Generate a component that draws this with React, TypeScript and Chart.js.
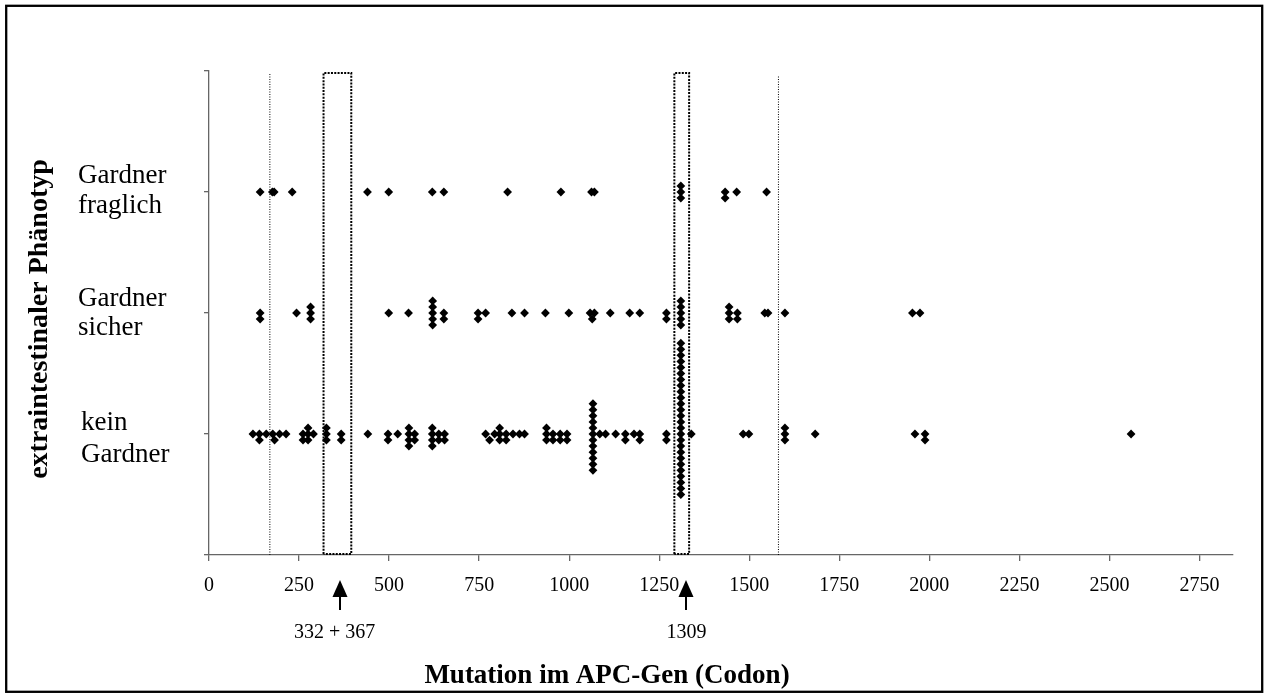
import React, { useEffect, useRef } from "react";
import { Chart, registerables } from "chart.js";

Chart.register(...registerables);

// ---- data (codon position, row value incl. stacking offset) ----
// row values: 1 = kein Gardner, 2 = Gardner sicher, 3 = Gardner fraglich
const keinCodon = [
  122, 140, 140, 159, 177, 182, 196, 214,
  261, 261, 275, 275, 275, 290,
  326, 326, 326, 367, 367,
  441, 497, 497, 524,
  555, 555, 555, 555, 571, 571,
  620, 620, 620, 620, 638, 638, 654, 654,
  768, 779, 793, 807, 807, 807, 825, 825, 844, 862, 876,
  937, 937, 937, 955, 955, 975, 975, 994, 994,
  1066, 1066, 1066, 1066, 1066, 1066, 1066, 1066, 1066, 1066, 1066, 1066,
  1085, 1101, 1129, 1156, 1156, 1180, 1196, 1196,
  1270, 1270,
  1310, 1310, 1310, 1310, 1310, 1310, 1310, 1310, 1310, 1310, 1310, 1310, 1310,
  1310, 1310, 1310, 1310, 1310, 1310, 1310, 1310, 1310, 1310, 1310, 1310, 1310,
  1339, 1483, 1499, 1599, 1599, 1599, 1683, 1960, 1988, 1988, 2560,
];
const keinRow = [
  1, 1, 0.95, 1, 1, 0.95, 1, 1,
  1, 0.95, 1.05, 1, 0.95, 1,
  1.05, 1, 0.95, 1, 0.95,
  1, 1, 0.95, 1,
  1.05, 1, 0.95, 0.9, 1, 0.95,
  1.05, 1, 0.95, 0.9, 1, 0.95, 1, 0.95,
  1, 0.95, 1, 1.05, 1, 0.95, 1, 0.95, 1, 1, 1,
  1.05, 1, 0.95, 1, 0.95, 1, 0.95, 1, 0.95,
  1.25, 1.2, 1.15, 1.1, 1.05, 1, 0.95, 0.9, 0.85, 0.8, 0.75, 0.7,
  1, 1, 1, 1, 0.95, 1, 1, 0.95,
  1, 0.95,
  1.75, 1.7, 1.65, 1.6, 1.55, 1.5, 1.45, 1.4, 1.35, 1.3, 1.25, 1.2, 1.15,
  1.1, 1.05, 1, 0.95, 0.9, 0.85, 0.8, 0.75, 0.7, 0.65, 0.6, 0.55, 0.5,
  1, 1, 1, 1.05, 1, 0.95, 1, 1, 1, 0.95, 1,
];

const sicherCodon = [
  142, 142, 243, 282, 282, 282, 499, 554,
  621, 621, 621, 621, 621, 652, 652, 747, 747, 768, 841, 876, 934, 999,
  1058, 1070, 1064, 1114, 1168, 1196, 1270, 1270,
  1310, 1310, 1310, 1310, 1310,
  1444, 1444, 1444, 1467, 1467, 1543, 1552, 1599, 1953, 1974,
];
const sicherRow = [
  2, 1.95, 2, 2.05, 2, 1.95, 2, 2,
  2.1, 2.05, 2, 1.95, 1.9, 2, 1.95, 2, 1.95, 2, 2, 2, 2, 2,
  2, 2, 1.95, 2, 2, 2, 2, 1.95,
  2.1, 2.05, 2, 1.95, 1.9,
  2.05, 2, 1.95, 2, 1.95, 2, 2, 2, 2, 2,
];

const fraglichCodon = [
  142, 176, 181, 231, 440, 499, 620, 652, 829, 977, 1062, 1070,
  1310, 1310, 1310, 1433, 1433, 1465, 1548,
];
const fraglichRow = [
  3, 3, 3, 3, 3, 3, 3, 3, 3, 3, 3, 3,
  3.05, 3, 2.95, 3, 2.95, 3, 3,
];

// category labels (row value -> two text lines)
const categoryValues = [3, 2, 1];
const categoryLines = [
  ["Gardner", "fraglich"],
  ["Gardner", "sicher"],
  ["kein", "Gardner"],
];

// reference lines and highlighted regions (codon)
const lineCodons = [169, 1581];
const lineTop = [3.975, 3.96];
const boxRanges = [
  [318, 395],
  [1292, 1333],
];
const boxTop = 3.983;
const boxBottom = 0.008;

// arrows under the axis
const arrowCodons = [363, 1324];
const arrowLabels = ["332 + 367", "1309"];
const arrowLabelCodons = [349, 1326];

const xTickValues = [0, 250, 500, 750, 1000, 1250, 1500, 1750, 2000, 2250, 2500, 2750];
const xMin = 0;
const xMax = 2843;
const yMin = 0;
const yMax = 4;

const xTitle = "Mutation im APC-Gen (Codon)";
const yTitle = "extraintestinaler Phänotyp";

const SERIF = "'Liberation Serif', 'Times New Roman', serif";

function zip(xs: number[], ys: number[]) {
  return xs.map((x, i) => ({ x, y: ys[i] }));
}

const annotationPlugin = {
  id: "annot",
  afterDraw(chart: any) {
    const ctx = chart.ctx as CanvasRenderingContext2D;
    const xs = chart.scales.x;
    const ys = chart.scales.y;
    ctx.save();
    ctx.fillStyle = "#000";

    // category labels
    const offsets = [
      [-9, 21],
      [-7, 22],
      [-4, 28],
    ];
    const lefts = [78, 78, 81];
    ctx.font = `27px ${SERIF}`;
    ctx.textAlign = "left";
    ctx.textBaseline = "alphabetic";
    categoryValues.forEach((v, i) => {
      const py = ys.getPixelForValue(v);
      ctx.fillText(categoryLines[i][0], lefts[i], py + offsets[i][0]);
      ctx.fillText(categoryLines[i][1], lefts[i], py + offsets[i][1]);
    });

    // arrows
    arrowCodons.forEach((c) => {
      const px = Math.round(xs.getPixelForValue(c));
      ctx.beginPath();
      ctx.moveTo(px, 580);
      ctx.lineTo(px + 7.5, 597);
      ctx.lineTo(px - 7.5, 597);
      ctx.closePath();
      ctx.fill();
      ctx.fillRect(px - 1, 596, 2, 14);
    });
    ctx.font = `20px ${SERIF}`;
    ctx.textAlign = "center";
    ctx.textBaseline = "middle";
    arrowLabels.forEach((t, i) => {
      ctx.fillText(t, xs.getPixelForValue(arrowLabelCodons[i]), 633);
    });

    // titles
    ctx.font = `bold 27px ${SERIF}`;
    ctx.textAlign = "center";
    ctx.textBaseline = "alphabetic";
    ctx.fillText(xTitle, 607, 683);
    ctx.save();
    ctx.font = `bold 28px ${SERIF}`;
    ctx.translate(47, 319);
    ctx.rotate(-Math.PI / 2);
    ctx.fillText(yTitle, 0, 0);
    ctx.restore();

    // outer frame
    ctx.strokeStyle = "#000";
    ctx.lineWidth = 2.3;
    ctx.strokeRect(6.2, 5.8, 1256, 686);
    ctx.restore();
  },
};

export default function App() {
  const ref = useRef<HTMLCanvasElement | null>(null);

  useEffect(() => {
    if (!ref.current) return;
    const pointStyle = {
      showLine: false,
      pointStyle: "rectRot" as const,
      pointRadius: 4.4,
      pointHoverRadius: 4.4,
      pointBackgroundColor: "#000",
      pointBorderColor: "#000",
      pointBorderWidth: 0,
      backgroundColor: "#000",
      borderColor: "#000",
    };
    const lineStyle = {
      showLine: true,
      pointRadius: 0,
      borderColor: "#000",
      borderWidth: 1,
      borderDash: [1, 1.5],
      fill: false,
    };
    const boxStyle = {
      showLine: true,
      pointRadius: 0,
      borderColor: "#000",
      borderWidth: 2,
      borderDash: [2, 1.3],
      fill: false,
    };

    const datasets: any[] = [
      { label: "fraglich", data: zip(fraglichCodon, fraglichRow), ...pointStyle },
      { label: "sicher", data: zip(sicherCodon, sicherRow), ...pointStyle },
      { label: "kein", data: zip(keinCodon, keinRow), ...pointStyle },
    ];
    lineCodons.forEach((c, i) => {
      datasets.push({
        label: "line" + i,
        data: [
          { x: c, y: yMin },
          { x: c, y: lineTop[i] },
        ],
        ...lineStyle,
      });
    });
    boxRanges.forEach(([a, b], i) => {
      datasets.push({
        label: "box" + i,
        data: [
          { x: a, y: boxBottom },
          { x: a, y: boxTop },
          { x: b, y: boxTop },
          { x: b, y: boxBottom },
          { x: a, y: boxBottom },
        ],
        ...boxStyle,
      });
    });

    const chart = new Chart(ref.current, {
      type: "scatter",
      data: { datasets },
      options: {
        animation: false,
        responsive: false,
        devicePixelRatio: 1,
        layout: { padding: { left: 199, right: 32, top: 71, bottom: 100 } },
        plugins: {
          legend: { display: false },
          tooltip: { enabled: false },
          title: { display: false },
        },
        elements: { line: { tension: 0 } },
        scales: {
          x: {
            type: "linear",
            min: xMin,
            max: xMax,
            afterFit: (s: any) => {
              s.height = 40;
            },
            afterBuildTicks: (s: any) => {
              s.ticks = xTickValues.map((v) => ({ value: v }));
            },
            border: { display: true, color: "#666", width: 1.3 },
            grid: {
              display: true,
              drawOnChartArea: false,
              drawTicks: true,
              tickLength: 6,
              color: "#666",
              lineWidth: 1.3,
            },
            ticks: {
              color: "#000",
              padding: 13,
              font: { family: SERIF, size: 20 },
              maxRotation: 0,
              autoSkip: false,
              callback: (v: any) => String(v),
            },
          },
          y: {
            type: "linear",
            min: yMin,
            max: yMax,
            afterFit: (s: any) => {
              s.width = 10;
            },
            afterBuildTicks: (s: any) => {
              s.ticks = [0, 1, 2, 3, 4].map((v) => ({ value: v }));
            },
            border: { display: true, color: "#666", width: 1.3 },
            grid: {
              display: true,
              drawOnChartArea: false,
              drawTicks: true,
              tickLength: 5,
              color: "#666",
              lineWidth: 1.3,
            },
            ticks: { display: false },
          },
        },
      },
      plugins: [annotationPlugin],
    });
    return () => chart.destroy();
  }, []);

  return (
    <div style={{ position: "fixed", left: 0, top: 0, width: 1265, height: 695, background: "#fff" }}>
      <canvas ref={ref} width={1265} height={695} style={{ display: "block", width: 1265, height: 695 }} />
    </div>
  );
}
